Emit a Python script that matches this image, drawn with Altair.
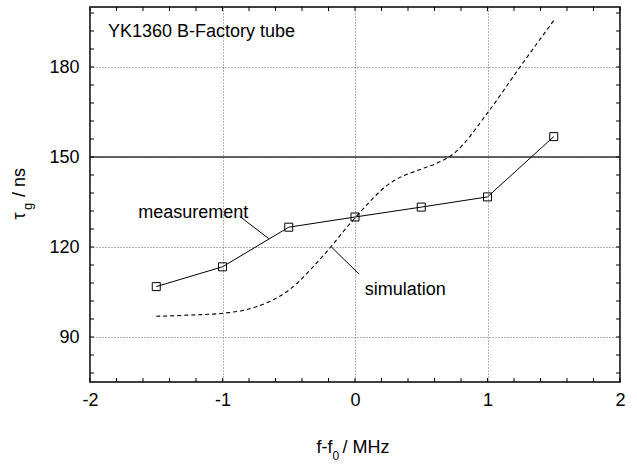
import altair as alt
import pandas as pd

# Measurement data
meas_x = [-1.5, -1.0, -0.5, 0.0, 0.5, 1.0, 1.5]
meas_y = [106.8, 113.4, 126.6, 130.0, 133.3, 136.7, 156.8]

# Simulation curve
sim_x = [-1.5, -1.25, -1.0, -0.75, -0.5, -0.25, 0.0, 0.25, 0.5, 0.6, 0.75, 1.0, 1.25, 1.5]
sim_y = [96.9, 97.3, 97.9, 100.0, 105.6, 116.6, 129.7, 140.8, 146.0, 147.6, 151.3, 164.7, 180.3, 195.5]

# Axis tick values
x_labels = [-2, -1, 0, 1, 2]
y_labels = [90, 120, 150, 180]
x_minor = [round(-2 + 0.2 * i, 1) for i in range(21)]
y_minor = [78 + 6 * i for i in range(21) if 78 + 6 * i <= 198]

FONT = "Liberation Sans"
W, H = 530, 375

meas = pd.DataFrame({"x": meas_x, "y": meas_y})
sim = pd.DataFrame({"x": sim_x, "y": sim_y})

xs = alt.Scale(domain=[-2, 2], nice=False, zero=False)
ys = alt.Scale(domain=[75, 200], nice=False, zero=False)

x_axis = alt.Axis(values=x_labels, title=None, ticks=False, tickSize=0, domain=False,
                  grid=True, gridDash=[1, 2], gridColor="#666", gridWidth=1,
                  labelFont=FONT, labelFontSize=18, labelColor="black", labelPadding=9,
                  labelFlush=False, labelExpr="'' + datum.value")
y_axis = alt.Axis(values=y_labels, title=None, ticks=False, tickSize=0, domain=False,
                  grid=True, gridDash=[1, 2], gridColor="#666", gridWidth=1,
                  labelFont=FONT, labelFontSize=18, labelColor="black", labelPadding=11,
                  labelFlush=False, labelExpr="'' + datum.value")

base_sim = alt.Chart(sim).mark_line(color="black", strokeWidth=1.1, strokeDash=[4, 3],
                                    interpolate="monotone").encode(
    x=alt.X("x:Q", scale=xs, axis=x_axis),
    y=alt.Y("y:Q", scale=ys, axis=y_axis),
)

line150 = alt.Chart(pd.DataFrame({"y": [150]})).mark_rule(color="#333", strokeWidth=1.4).encode(
    y=alt.Y("y:Q", scale=ys)
)

meas_line = alt.Chart(meas).mark_line(color="black", strokeWidth=1).encode(
    x=alt.X("x:Q", scale=xs), y=alt.Y("y:Q", scale=ys)
)
meas_pts = alt.Chart(meas).mark_point(shape="square", size=64, filled=False,
                                      color="black", strokeWidth=1, opacity=1).encode(
    x=alt.X("x:Q", scale=xs), y=alt.Y("y:Q", scale=ys)
)

# inward ticks
xt = pd.DataFrame({"v": x_minor})
yt = pd.DataFrame({"v": y_minor})
tick_b = alt.Chart(xt).mark_rule(color="black", strokeWidth=1).encode(
    x=alt.X("v:Q", scale=xs), y=alt.value(H), y2=alt.value(H - 4))
tick_t = alt.Chart(xt).mark_rule(color="black", strokeWidth=1).encode(
    x=alt.X("v:Q", scale=xs), y=alt.value(0), y2=alt.value(4))
tick_l = alt.Chart(yt).mark_rule(color="black", strokeWidth=1).encode(
    y=alt.Y("v:Q", scale=ys), x=alt.value(0), x2=alt.value(4))
tick_r = alt.Chart(yt).mark_rule(color="black", strokeWidth=1).encode(
    y=alt.Y("v:Q", scale=ys), x=alt.value(W), x2=alt.value(W - 4))

# annotation leaders
lead_m = alt.Chart(pd.DataFrame({"a": [0]})).mark_rule(color="black", strokeWidth=1).encode(
    x=alt.datum(-0.87, scale=xs), y=alt.datum(130.2, scale=ys),
    x2=alt.datum(-0.651), y2=alt.datum(122.8))
lead_s = alt.Chart(pd.DataFrame({"a": [0]})).mark_rule(color="black", strokeWidth=1).encode(
    x=alt.datum(-0.178, scale=xs), y=alt.datum(120.0, scale=ys),
    x2=alt.datum(0.03), y2=alt.datum(111.0))

txt_m = alt.Chart(pd.DataFrame({"t": ["measurement"]})).mark_text(
    font=FONT, fontSize=18, align="left", baseline="middle", color="black").encode(
    x=alt.datum(-1.636, scale=xs), y=alt.datum(131.4, scale=ys), text="t:N")
txt_s = alt.Chart(pd.DataFrame({"t": ["simulation"]})).mark_text(
    font=FONT, fontSize=18, align="left", baseline="middle", color="black").encode(
    x=alt.datum(0.073, scale=xs), y=alt.datum(105.8, scale=ys), text="t:N")
txt_title = alt.Chart(pd.DataFrame({"t": ["YK1360 B-Factory tube"]})).mark_text(
    font=FONT, fontSize=18, align="left", baseline="middle", color="black").encode(
    x=alt.value(18), y=alt.value(24.5), text="t:N")

# axis titles built from pieces (subscripts)
def piece(t, x, y, size=18, align="center", angle=0):
    return alt.Chart(pd.DataFrame({"t": [t]})).mark_text(
        font=FONT, fontSize=size, align=align, baseline="middle", color="black",
        angle=angle).encode(x=alt.value(x), y=alt.value(y), text="t:N")

ox, oy = 90, 7
xt1 = piece("f-f", 316.5 - ox, 448 - oy, align="left")
xt2 = piece("0", 332.5 - ox, 456 - oy, size=12, align="left")
xt3 = piece("/ MHz", 342.5 - ox, 448 - oy, align="left")
yt1 = piece("\u03c4", 20 - ox, 216 - oy, angle=270)
yt2 = piece("g", 28 - ox, 206.5 - oy, size=13, angle=270)
yt3 = piece("/ ns", 20 - ox, 182.5 - oy, angle=270)

chart = alt.layer(
    base_sim, line150, meas_line, meas_pts,
    tick_b, tick_t, tick_l, tick_r,
    lead_m, lead_s, txt_m, txt_s, txt_title,
    xt1, xt2, xt3, yt1, yt2, yt3,
).properties(
    width=W, height=H,
    autosize=alt.AutoSizeParams(type="none"),
    padding={"left": 90, "top": 7, "right": 17, "bottom": 82},
    background="white",
).configure_view(stroke="black", strokeWidth=1.5)

chart.save("out.html", embed_options={"renderer": "svg", "actions": False})
